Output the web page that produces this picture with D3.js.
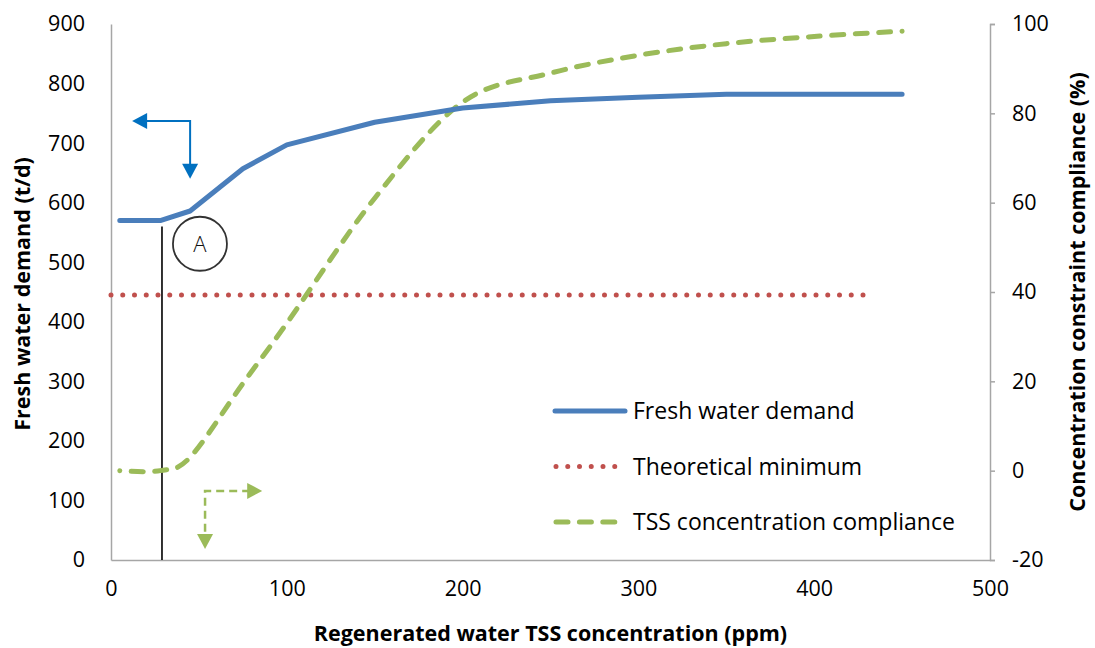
<!DOCTYPE html>
<html>
<head>
<meta charset="utf-8">
<script src="https://cdn.jsdelivr.net/npm/d3@7"></script>
<style>
  html, body { margin: 0; padding: 0; background: #fff; }
  svg { display: block; font-family: "Open Sans", "Noto Sans", sans-serif; }
</style>
</head>
<body>
<svg id="chart" width="1095" height="648"></svg>
<script>
// TSS concentration of the regenerated water (ppm)
const tss = [5, 28, 45, 75, 100, 150, 200, 250, 300, 350, 400, 450];
// Fresh water demand (t/d), left axis
const freshDemand = [570, 570, 586, 657, 697, 735, 759, 771, 777, 782, 782, 782];
// TSS concentration constraint compliance (%), right axis
const compliance = [0, 0, 3, 19.5, 33, 61, 82.5, 89, 93, 95.6, 97.2, 98.4];
// Theoretical minimum fresh water demand (t/d)
const minX = [0, 430];
const minDemand = [445, 445];

const leftTicks = [0, 100, 200, 300, 400, 500, 600, 700, 800, 900];
const rightTicks = [-20, 0, 20, 40, 60, 80, 100];
const xTicks = [0, 100, 200, 300, 400, 500];

// Point "A" marker and the reading arrows (data units)
const markerA = { x: 29, label: "A", cx: 50.6, cy: 531 };
const blueArrow = { corner: [45, 737], leftTip: 12, downTip: 640 };
const greenArrow = { corner: [53.5, 116], rightTip: 86, downTip: 18.5 };

const legendItems = ["Fresh water demand", "Theoretical minimum", "TSS concentration compliance"];

const W = 1095, H = 648;
const margin = { top: 24, right: 105, bottom: 88, left: 111 };
const iw = W - margin.left - margin.right;
const ih = H - margin.top - margin.bottom;

const svg = d3.select("#chart");
const g = svg.append("g").attr("transform", `translate(${margin.left},${margin.top})`);

const x = d3.scaleLinear().domain([0, 500]).range([0, iw]);
const yL = d3.scaleLinear().domain([0, 900]).range([ih, 0]);
const yR = d3.scaleLinear().domain([-20, 100]).range([ih, 0]);

const BLUE = "#4a7ebb", RED = "#c0504d", GREEN = "#9bbb59", AXIS = "#a6a6a6";
const plain = d => String(d);

// Axes
const axL = g.append("g").call(d3.axisLeft(yL).tickValues(leftTicks).tickFormat(plain).tickSize(0).tickPadding(26));
const axR = g.append("g").attr("transform", `translate(${iw},0)`)
  .call(d3.axisRight(yR).tickValues(rightTicks).tickFormat(plain).tickSize(5).tickPadding(17));
const axB = g.append("g").attr("transform", `translate(0,${ih})`)
  .call(d3.axisBottom(x).tickValues(xTicks).tickFormat(plain).tickSize(0).tickPadding(21));

[axL, axR, axB].forEach(a => {
  a.select(".domain").attr("stroke", AXIS).attr("stroke-width", 1.5);
  a.selectAll(".tick line").attr("stroke", AXIS).attr("stroke-width", 1.5);
  a.selectAll(".tick text").attr("fill", "#000").attr("font-size", 21.5)
    .attr("font-family", "'Open Sans', sans-serif");
});
axR.selectAll(".tick text").attr("text-anchor", "start");
axL.selectAll(".tick text").attr("text-anchor", "end");

// Axis titles
svg.append("text")
  .attr("transform", `translate(${30},${margin.top + ih / 2 + 2}) rotate(-90)`)
  .attr("text-anchor", "middle").attr("font-weight", "bold").attr("font-size", 21.5)
  .text("Fresh water demand (t/d)");
svg.append("text")
  .attr("transform", `translate(${1085},${margin.top + ih / 2}) rotate(-90)`)
  .attr("text-anchor", "middle").attr("font-weight", "bold").attr("font-size", 21.5)
  .text("Concentration constraint compliance (%)");
svg.append("text")
  .attr("x", margin.left + iw / 2).attr("y", 641)
  .attr("text-anchor", "middle").attr("font-weight", "bold").attr("font-size", 21.5)
  .text("Regenerated water TSS concentration (ppm)");

// Theoretical minimum (dotted)
const minLine = d3.line().x((d, i) => x(minX[i])).y(d => yL(d));
g.append("path").datum(minDemand)
  .attr("d", minLine)
  .attr("fill", "none").attr("stroke", RED).attr("stroke-width", 5)
  .attr("stroke-linecap", "round").attr("stroke-dasharray", "0 11.75");

// Vertical marker line at point A
g.append("line")
  .attr("x1", x(markerA.x)).attr("x2", x(markerA.x))
  .attr("y1", yL(freshDemand[1]) + 6).attr("y2", ih)
  .attr("stroke", "#000").attr("stroke-width", 1.6);

// Compliance (smoothed, dashed, right axis)
const compLine = d3.line().x((d, i) => x(tss[i])).y(d => yR(d)).curve(d3.curveCatmullRom.alpha(0));
g.append("path").datum(compliance)
  .attr("d", compLine)
  .attr("fill", "none").attr("stroke", GREEN).attr("stroke-width", 5)
  .attr("stroke-linecap", "round").attr("stroke-dasharray", "12 11.4")
  .attr("stroke-dashoffset", 11.9);

// Fresh water demand (solid, left axis)
const demandLine = d3.line().x((d, i) => x(tss[i])).y(d => yL(d));
g.append("path").datum(freshDemand)
  .attr("d", demandLine)
  .attr("fill", "none").attr("stroke", BLUE).attr("stroke-width", 5)
  .attr("stroke-linecap", "round").attr("stroke-linejoin", "round");

// Circled label A
const blur = svg.append("defs").append("filter").attr("id", "soft");
blur.append("feGaussianBlur").attr("stdDeviation", 0.5);
g.append("circle")
  .attr("cx", x(markerA.cx)).attr("cy", yL(markerA.cy)).attr("r", 27)
  .attr("fill", "#fff").attr("stroke", "#333").attr("stroke-width", 1.8)
  .attr("filter", "url(#soft)");
g.append("text")
  .attr("x", x(markerA.cx)).attr("y", yL(markerA.cy) + 8)
  .attr("text-anchor", "middle").attr("font-size", 22).attr("font-weight", 300)
  .attr("fill", "#111").text(markerA.label);

// Reading-direction arrows
function arrowHead(tip, dir, color) {
  const L = 15, Wd = 8;
  let pts;
  if (dir === "left") pts = [[tip[0], tip[1]], [tip[0] + L, tip[1] - Wd], [tip[0] + L, tip[1] + Wd]];
  if (dir === "right") pts = [[tip[0], tip[1]], [tip[0] - L, tip[1] - Wd], [tip[0] - L, tip[1] + Wd]];
  if (dir === "down") pts = [[tip[0], tip[1]], [tip[0] - Wd, tip[1] - L], [tip[0] + Wd, tip[1] - L]];
  g.append("path").attr("d", "M" + pts.map(p => p.join(",")).join("L") + "Z").attr("fill", color);
}

const bc = [x(blueArrow.corner[0]), yL(blueArrow.corner[1])];
const bl = [x(blueArrow.leftTip), bc[1]];
const bd = [bc[0], yL(blueArrow.downTip)];
g.append("path")
  .attr("d", `M${bl[0] + 12},${bl[1]}L${bc[0]},${bc[1]}L${bd[0]},${bd[1] - 12}`)
  .attr("fill", "none").attr("stroke", "#0070c0").attr("stroke-width", 2);
arrowHead(bl, "left", "#0070c0");
arrowHead(bd, "down", "#0070c0");

const gc = [x(greenArrow.corner[0]), yL(greenArrow.corner[1])];
const gr = [x(greenArrow.rightTip), gc[1]];
const gd = [gc[0], yL(greenArrow.downTip)];
g.append("path")
  .attr("d", `M${gr[0] - 12},${gr[1]}L${gc[0]},${gc[1]}L${gd[0]},${gd[1] - 12}`)
  .attr("fill", "none").attr("stroke", GREEN).attr("stroke-width", 2.5)
  .attr("stroke-dasharray", "8 5");
arrowHead(gr, "right", GREEN);
arrowHead(gd, "down", GREEN);

// Legend
const legend = svg.append("g").attr("transform", "translate(555,411)");
const styles = [
  { stroke: BLUE, dash: null },
  { stroke: RED, dash: "0 11.75" },
  { stroke: GREEN, dash: "12 11.4" }
];
legendItems.forEach((name, i) => {
  const row = legend.append("g").attr("transform", `translate(0,${i * 55.5})`);
  row.append("line")
    .attr("x1", i === 0 ? 0 : 1).attr("x2", i === 0 ? 70 : 66).attr("y1", 0).attr("y2", 0)
    .attr("stroke", styles[i].stroke).attr("stroke-width", 5).attr("stroke-linecap", "round")
    .attr("stroke-dasharray", styles[i].dash);
  row.append("text").attr("x", 78).attr("y", 8).attr("font-size", 23).attr("fill", "#000").text(name);
});
</script>
</body>
</html>
